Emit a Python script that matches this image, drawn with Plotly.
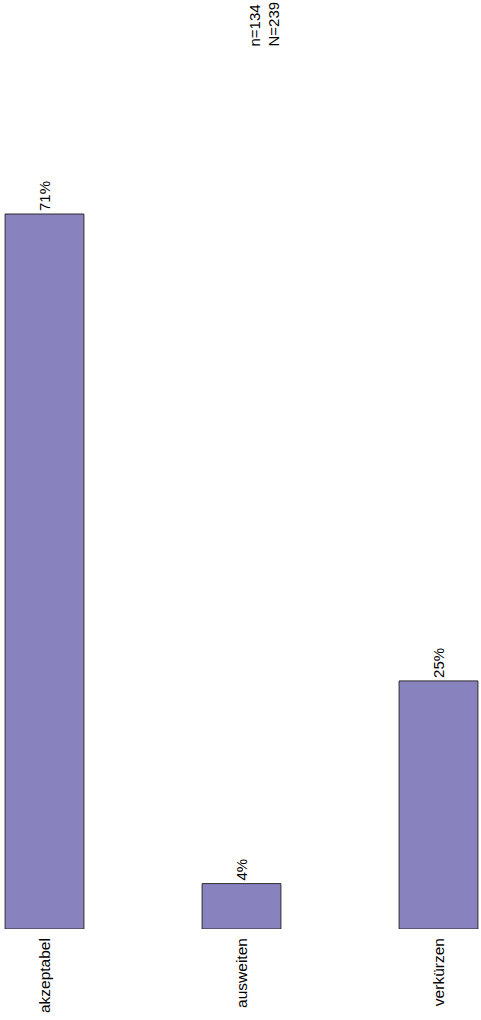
import plotly.graph_objects as go

categories = ["akzeptabel", "ausweiten", "verkürzen"]
values = [70.9, 4.5, 24.6]
labels = ["71%", "4%", "25%"]
note_lines = ["n=134", "N=239"]

W, H = 481, 1020
plot_h = 929
FONT = "Liberation Sans, Arial, sans-serif"

fig = go.Figure()
fig.add_trace(go.Bar(
    x=categories,
    y=values,
    width=0.4,
    marker=dict(color="#8883BE", line=dict(color="#2b2b2b", width=1)),
    text=labels,
    textposition="outside",
    textangle=-90,
    textfont=dict(family=FONT, size=15, color="#000000"),
    cliponaxis=False,
    hoverinfo="skip",
))

fig.add_annotation(
    xref="paper", yref="paper",
    x=264 / W, y=1.0,
    xanchor="center", yanchor="top",
    text="<br>".join(note_lines),
    textangle=-90,
    align="left",
    showarrow=False,
    font=dict(family=FONT, size=15, color="#000000"),
)

fig.update_layout(
    width=W, height=H,
    margin=dict(l=0, r=0, t=0, b=H - plot_h, pad=0, autoexpand=False),
    paper_bgcolor="white",
    plot_bgcolor="white",
    showlegend=False,
    font=dict(family=FONT, size=15, color="#000000"),
    xaxis=dict(
        type="category",
        range=[-44.5 / 197, (W - 44.5) / 197],
        showgrid=False, zeroline=False, showline=False,
        ticks="", tickangle=-90, automargin=False,
        ticklabelstandoff=5,
        tickfont=dict(family=FONT, size=15.5, color="#000000"),
    ),
    yaxis=dict(
        range=[0, 70.9 * plot_h / (plot_h - 214)],
        visible=False, showgrid=False, zeroline=False, automargin=False,
    ),
)

fig.write_html(
    "out.html",
    config={"displayModeBar": False},
    post_script="document.body.style.margin='0';document.body.style.overflow='hidden';",
)
